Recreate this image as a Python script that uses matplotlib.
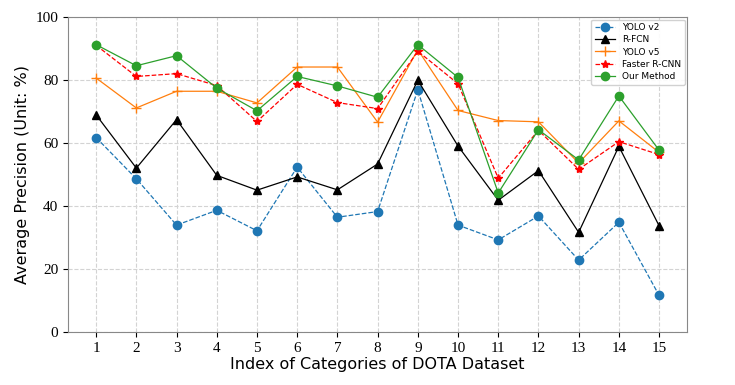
import numpy as np
import matplotlib.pyplot as plt

categories = list(range(1, 16))
yolo_v2 = [61.7, 48.6, 33.9, 38.6, 32.1, 52.3, 36.4, 38.2, 76.9, 33.9, 29.2, 36.8, 22.8, 34.8, 11.6]
r_fcn = [68.9, 52.0, 67.4, 49.7, 45.0, 49.2, 45.1, 53.3, 79.9, 59.0, 41.8, 51.2, 31.6, 58.9, 33.7]
yolo_v5 = [80.6, 71.1, 76.4, 76.4, 72.7, 84.1, 84.1, 66.6, 89.6, 70.3, 67.1, 66.7, 53.6, 67.0, 57.0]
faster_rcnn = [91.0, 81.1, 82.0, 78.2, 66.8, 78.6, 72.8, 70.9, 89.1, 78.8, 48.8, 64.0, 51.6, 60.4, 56.3]
our_method = [91.2, 84.5, 87.7, 77.4, 70.2, 81.1, 78.1, 74.5, 91.2, 80.8, 44.1, 64.2, 54.6, 74.9, 57.7]

fig = plt.figure(figsize=(7.35, 3.85), dpi=100)
ax = fig.add_axes([0.0925, 0.138, 0.8425, 0.818])

x = np.array(categories)
ax.plot(x, yolo_v2, '--o', color='#1f77b4', linewidth=0.9, markersize=6, label='YOLO v2')
ax.plot(x, r_fcn, '-^', color='black', linewidth=0.9, markersize=6, label='R-FCN')
ax.plot(x, yolo_v5, '-+', color='#ff7f0e', linewidth=0.9, markersize=7, label='YOLO v5')
ax.plot(x, faster_rcnn, '--*', color='red', linewidth=0.9, markersize=6, label='Faster R-CNN')
ax.plot(x, our_method, '-o', color='#2ca02c', linewidth=0.9, markersize=6, label='Our Method')

ax.set_xlim(0.3, 15.7)
ax.set_ylim(0, 100)
ax.set_xticks(categories)
ax.set_yticks([0, 20, 40, 60, 80, 100])
for lbl in ax.get_xticklabels() + ax.get_yticklabels():
    lbl.set_family('Liberation Serif')
    lbl.set_fontsize(11)
ax.tick_params(colors='black', length=3.5)

ax.grid(True, linestyle='--', color='#d3d3d3', linewidth=0.8)
for sp in ax.spines.values():
    sp.set_color('#888888')

ax.set_xlabel('Index of Categories of DOTA Dataset', fontsize=11.5, labelpad=2)
ax.set_ylabel('Average Precision (Unit: %)', fontsize=11.5)

ax.legend(loc='upper right', fontsize=6.5, framealpha=0.9, handlelength=2.2,
          labelspacing=0.35, borderaxespad=0.3)

fig.savefig('out.png', dpi=100)
